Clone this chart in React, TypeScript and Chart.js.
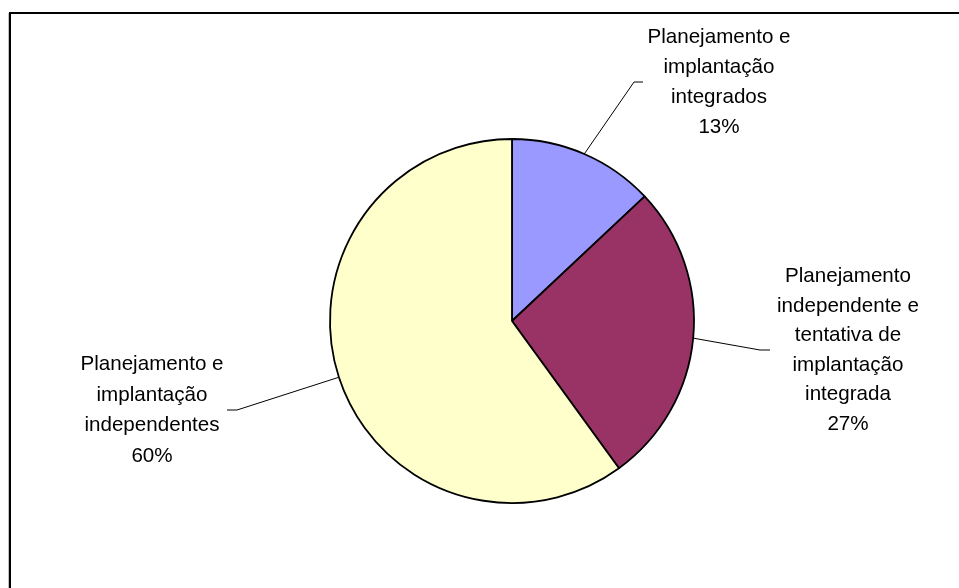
import React, { useEffect, useRef } from "react";
import { Chart, registerables } from "chart.js";

Chart.register(...registerables);

const categories: string[][] = [
  ["Planejamento e", "implantação", "integrados"],
  ["Planejamento", "independente e", "tentativa de", "implantação", "integrada"],
  ["Planejamento e", "implantação", "independentes"],
];
const values: number[] = [13, 27, 60];
const percentLabels: string[] = ["13%", "27%", "60%"];
const colors: string[] = ["#9999FF", "#993366", "#FFFFCC"];

// label layout (elbow point, horizontal end, text center x, first baseline, line height)
const labelLayout = [
  { elbow: [634, 82], end: [643, 82], cx: 719, y0: 43, lh: 30 },
  { elbow: [760, 350], end: [770, 350], cx: 848, y0: 282, lh: 29.6 },
  { elbow: [237, 410], end: [227, 410], cx: 152, y0: 370, lh: 30.5 },
];

const framePlugin = {
  id: "frame",
  beforeDraw(chart: any) {
    const ctx = chart.ctx;
    ctx.save();
    ctx.fillStyle = "#ffffff";
    ctx.fillRect(0, 0, chart.width, chart.height);
    ctx.fillStyle = "#c0c0c0";
    ctx.fillRect(8, 13, 1, chart.height - 13);
    ctx.fillStyle = "#000000";
    ctx.fillRect(9, 12, 2, chart.height - 12);
    ctx.fillRect(9, 12, chart.width - 9, 2);
    ctx.restore();
  },
};

const labelPlugin = {
  id: "pieLabels",
  afterDraw(chart: any) {
    const ctx = chart.ctx;
    const meta = chart.getDatasetMeta(0);
    ctx.save();
    meta.data.forEach((arc: any, i: number) => {
      const { x, y, startAngle, endAngle, outerRadius } = arc.getProps(
        ["x", "y", "startAngle", "endAngle", "outerRadius"],
        true
      );
      const mid = (startAngle + endAngle) / 2;
      const px = x + Math.cos(mid) * outerRadius;
      const py = y + Math.sin(mid) * outerRadius;
      const L = labelLayout[i];
      ctx.strokeStyle = "#000";
      ctx.lineWidth = 1;
      ctx.beginPath();
      ctx.moveTo(px, py);
      ctx.lineTo(L.elbow[0], L.elbow[1]);
      ctx.lineTo(L.end[0], L.end[1]);
      ctx.stroke();

      ctx.fillStyle = "#000";
      ctx.font = "20.6px 'Liberation Sans', Arial, sans-serif";
      ctx.textAlign = "center";
      ctx.textBaseline = "alphabetic";
      const lines = [...categories[i], percentLabels[i]];
      lines.forEach((t, k) => {
        ctx.fillText(t, L.cx, L.y0 + k * L.lh);
      });
    });
    ctx.restore();
  },
};

export default function App() {
  const ref = useRef<HTMLCanvasElement | null>(null);
  useEffect(() => {
    if (!ref.current) return;
    const chart = new Chart(ref.current, {
      type: "pie",
      data: {
        labels: categories.map((c) => c.join(" ")),
        datasets: [
          {
            data: values,
            backgroundColor: colors,
            borderColor: "#000000",
            borderWidth: 1.8,
          },
        ],
      },
      options: {
        responsive: false,
        animation: false,
        radius: 182,
        layout: { padding: { left: 65, top: 54, right: 0, bottom: 0 } },
        plugins: {
          legend: { display: false },
          tooltip: { enabled: false },
        },
      } as any,
      plugins: [framePlugin, labelPlugin],
    });
    return () => chart.destroy();
  }, []);
  return (
    <div style={{ position: "absolute", left: 0, top: 0, width: 959, height: 588 }}>
      <canvas ref={ref} width={959} height={588} style={{ display: "block" }} />
    </div>
  );
}
